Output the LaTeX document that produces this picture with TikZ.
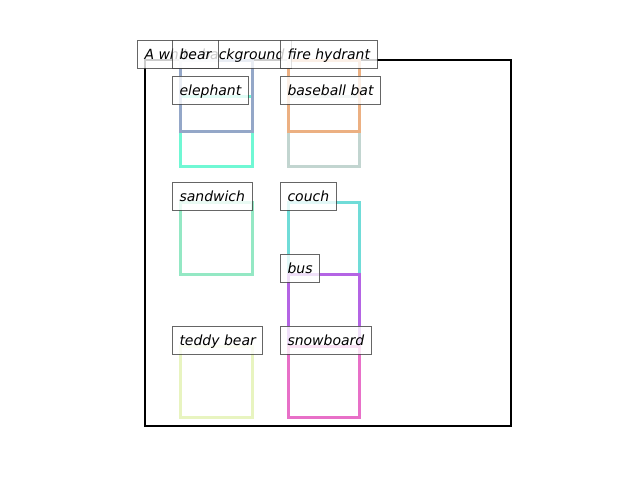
\documentclass[tikz,border=0pt]{standalone}
\usepackage{fontspec}
\newfontfamily\lblfont{DejaVu Sans}
\definecolor{cbear}{HTML}{94A7C8}
\definecolor{celeph}{HTML}{70F8D4}
\definecolor{cfire}{HTML}{ECB082}
\definecolor{cbat}{HTML}{C2D5D0}
\definecolor{csand}{HTML}{94E8C4}
\definecolor{ccouch}{HTML}{70DCD8}
\definecolor{cbus}{HTML}{B464E4}
\definecolor{csnow}{HTML}{E870C8}
\definecolor{cteddy}{HTML}{E8F4C0}
\tikzset{
  bx/.style={draw=#1, line width=2.8pt, inner sep=0pt, anchor=north west, fill=none},
  lab/.style={draw=black!75, draw opacity=0.8, fill=white, fill opacity=0.8, text opacity=1,
    line width=1pt, inner xsep=7pt, inner ysep=0pt, text height=19pt, text depth=9pt,
    anchor=base west, font=\lblfont\itshape\fontsize{14}{16}\selectfont}
}
\begin{document}
\begin{tikzpicture}[x=1pt,y=-1pt]
\useasboundingbox (0,0) rectangle (640,480);
% boxes
\node[bx=black, line width=2.4pt, minimum width=366pt, minimum height=366pt] (frame) at (144,59) {};
\node[bx=celeph, minimum width=72pt, minimum height=70pt] (eleph) at (179,95) {};
\node[bx=cbear, minimum width=72pt, minimum height=71pt] (bear) at (179,59) {};
\node[bx=cbat, minimum width=71pt, minimum height=70pt] (bat) at (287,95) {};
\node[bx=cfire, minimum width=71pt, minimum height=71pt] (fire) at (287,59) {};
\node[bx=csand, minimum width=72pt, minimum height=72pt] (sand) at (179,201) {};
\node[bx=ccouch, minimum width=71pt, minimum height=72pt] (couch) at (287,201) {};
\node[bx=cbus, minimum width=71pt, minimum height=143pt] (bus) at (287,273) {};
\node[bx=csnow, minimum width=71pt, minimum height=71pt] (snow) at (287,345) {};
\node[bx=cteddy, minimum width=72pt, minimum height=71pt] (teddy) at (179,345) {};
% labels
\node[lab] (frameL) at (137,59) {A white background};
\node[lab] (bearL) at (172,59) {bear};
\node[lab] (elephL) at (172,95) {elephant};
\node[lab] (fireL) at (280,59) {fire hydrant};
\node[lab] (batL) at (280,95) {baseball bat};
\node[lab] (sandL) at (172,201) {sandwich};
\node[lab] (couchL) at (280,201) {couch};
\node[lab] (busL) at (280,273) {bus};
\node[lab] (snowL) at (280,345) {snowboard};
\node[lab] (teddyL) at (172,345) {teddy bear};
\end{tikzpicture}
\end{document}
